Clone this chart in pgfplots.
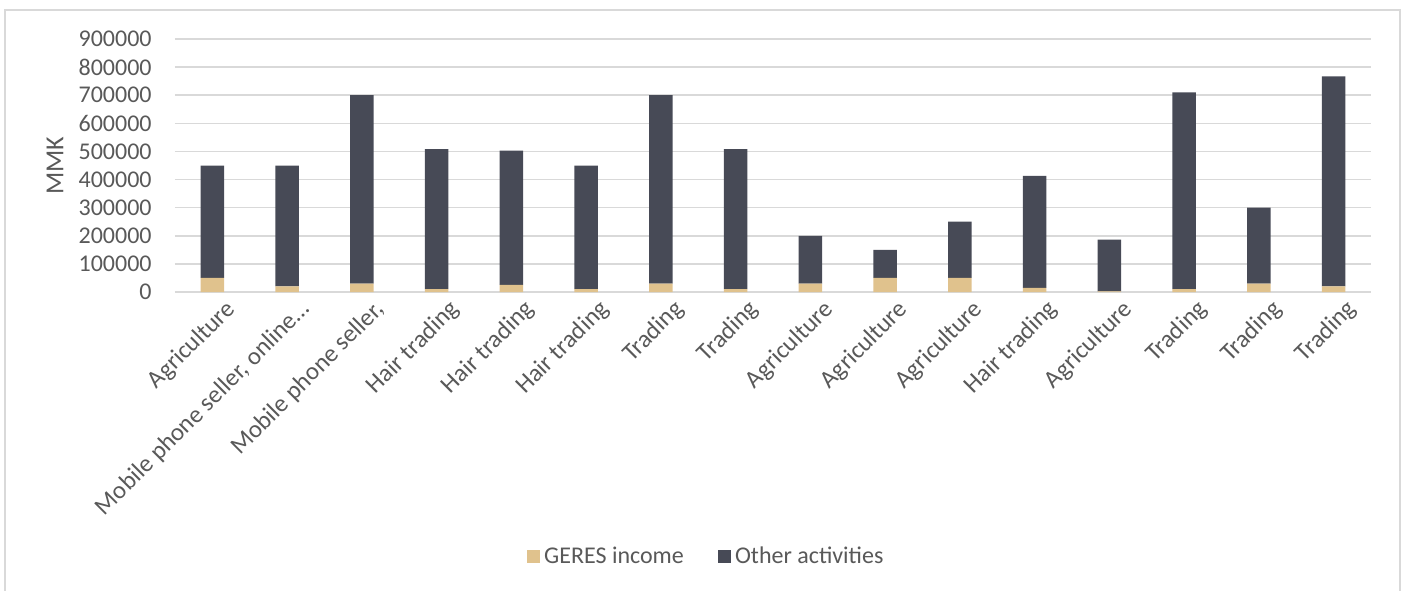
\documentclass[border=0pt]{standalone}
\usepackage{pgfplots}
\pgfplotsset{compat=1.18}
\usepackage{pgfplotstable}
\usepackage{fontspec}
\setmainfont{Carlito}

\definecolor{geres}{HTML}{E0C28D}
\definecolor{other}{HTML}{474A56}
\definecolor{gridc}{HTML}{D9D9D9}
\definecolor{txt}{HTML}{595959}

% income per respondent, MMK
\pgfplotstableread{
x  geres  other
0  50000  400000
1  20000  430000
2  30000  670000
3  10000  498000
4  25000  478000
5  10000  440000
6  30000  670000
7  10000  498000
8  30000  170000
9  50000  100000
10 50000  200000
11 15000  398000
12 2000   184000
13 10000  700000
14 30000  270000
15 20000  747000
}\incomedata

\begin{document}
\begin{tikzpicture}
\begin{axis}[
  at={(0,0)}, anchor=south west,
  scale only axis, width=598pt, height=126.5pt,
  ybar stacked, bar width=11.75pt,
  xmin=-0.5, xmax=15.5, ymin=0, ymax=900000,
  xtick=data,
  xticklabels={Agriculture, {Mobile phone seller, online…}, {Mobile phone seller,},
    Hair trading, Hair trading, Hair trading, Trading, Trading, Agriculture,
    Agriculture, Agriculture, Hair trading, Agriculture, Trading, Trading, Trading},
  ytick={0,100000,...,900000},
  scaled y ticks=false,
  /pgf/number format/assume math mode=true,
  yticklabel style={/pgf/number format/fixed, /pgf/number format/1000 sep={},
    anchor=east, inner sep=0pt, xshift=-11.5pt},
  xticklabel style={rotate=45, anchor=north east, inner sep=0pt, yshift=-6pt, xshift=2pt,
    font=\fontsize{12.4}{14}\selectfont},
  ticklabel style={font=\fontsize{12}{14}\selectfont, text=txt},
  ymajorgrids, grid style={gridc, line width=0.8pt},
  axis line style={draw=none}, tick style={draw=none}, major tick length=0pt,
  ylabel={MMK},
  ylabel style={at={(axis description cs:-0.1003,0.5)}, anchor=center,
    font=\fontsize{13}{15}\selectfont, text=txt},
  legend style={at={(0.445,-1.047)}, anchor=center, draw=none, legend columns=2,
    font=\fontsize{12}{14}\selectfont, text=txt,
    /tikz/every even column/.append style={column sep=15pt}},
  legend image code/.code={\fill[#1] (0pt,-3.3pt) rectangle (6.6pt,3.3pt);},
]
\addplot+[fill=geres, draw=none] table[x=x, y=geres] {\incomedata};
\addlegendentry{GERES income}
\addplot+[fill=other, draw=none] table[x=x, y=other] {\incomedata};
\addlegendentry{Other activities}
\end{axis}
\draw[gridc, line width=0.8pt] (-85pt,141pt) rectangle (612.5pt,-165pt);
\pgfresetboundingbox
\useasboundingbox (-87.5pt,-149pt) rectangle (614.5pt,146pt);
\end{tikzpicture}
\end{document}
